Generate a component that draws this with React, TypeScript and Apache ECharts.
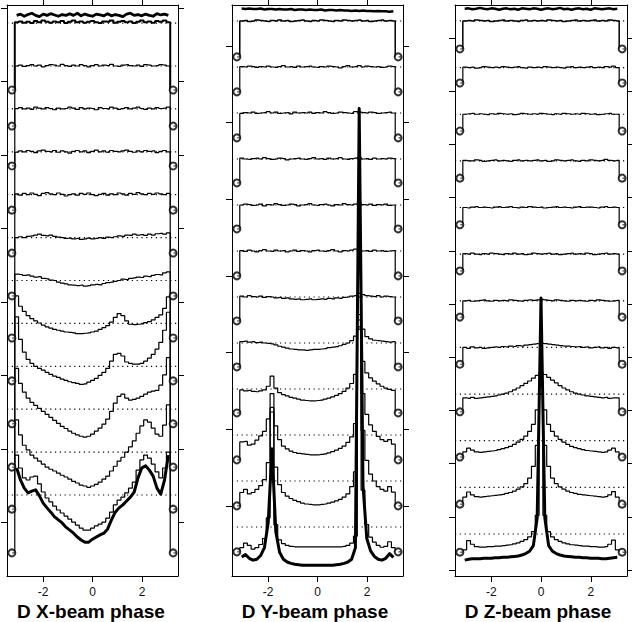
import React, { useEffect, useRef } from 'react';
import * as echarts from 'echarts';

// ---------- shared axis data ----------
const XMIN = -3.456;
const XMAX = 3.456;
const NBINS = 41;
const binCentres: number[] = Array.from({ length: NBINS }, (_, i) => -Math.PI + ((i + 0.5) * 2 * Math.PI) / NBINS);
const CIRCLE_X = 3.26;
const xTickValues = [-2, 0, 2];
const titles = ['D X-beam phase', 'D Y-beam phase', 'D Z-beam phase'];

// ---------- panel 1 : X-beam (deviations from each level, in % of the offset) ----------
const xDev1 = [93, 63, 40, 35, 42, 44, 26, 7, -7, -16, -26, -35, -42, -49, -56, -63, -70, -77, -82, -82, -77, -72, -68, -63, -54, -40, -23, -12, -5, 5, 16, 30, 58, 82, 93, 86, 72, 54, 40, 63, 100];
const xDev2 = [75, 40, 16, 5, -7, -14, -21, -28, -35, -40, -44, -49, -54, -58, -63, -68, -72, -77, -79, -82, -79, -75, -70, -63, -56, -44, -33, -21, -12, 0, 12, 26, 44, 61, 75, 70, 56, 42, 37, 63, 110];
const xDev3 = [95, 60, 40, 26, 16, 9, 2, -5, -12, -19, -26, -33, -40, -45, -51, -56, -60, -63, -65, -63, -58, -51, -44, -35, -23, -5, 14, 30, 35, 26, 21, 23, 26, 30, 35, 40, 42, 44, 56, 80, 120];
const xDev4 = [115, 63, 33, 16, 7, 0, -5, -9, -14, -19, -23, -26, -30, -33, -36, -38, -40, -42, -41, -37, -33, -28, -21, -14, -5, 12, 28, 30, 24, 10, 7, 5, 5, 7, 12, 19, 28, 40, 56, 84, 126];
const xDev5 = [64, 40, 28, 18, 11, 6, 1, -4, -8, -11, -14, -16, -18, -20, -21, -22, -24, -24, -23, -22, -20, -18, -14, -10, -5, 3, 14, 23, 18, 6, -2, -3, -2, -1, 2, 4, 8, 14, 20, 35, 62];
const xDev6 = [15, 14, 12, 13, 10, 8, 9, 5, 4, 1, 0, -4, -6, -8, -10, -11, -12, -11, -13, -12, -10, -9, -10, -7, -5, -4, -2, 0, 3, 2, 5, 6, 8, 7, 10, 9, 12, 14, 13, 18, 20];
const xDev7 = [0, 2, 0, 3, 4, 6, 8, 5, 4, 6, 3, 1, 0, -2, -1, -3, -2, -4, -3, -1, -3, -2, 0, -2, 1, 0, 2, 4, 3, 6, 5, 8, 6, 7, 5, 8, 6, 9, 10, 8, 11];
const xDev8 = [2, -1, 3, 0, 4, 1, -2, 3, 5, 2, 0, 4, 1, -3, 0, 2, -1, 3, 1, 4, 0, -2, 1, 3, -1, 2, 0, 4, 2, -1, 3, 1, 5, 2, 0, 3, 1, 4, 2, 0, 3];
const xDev9 = [-1, 2, 0, 3, 1, -2, 2, 4, 1, 0, 3, -1, 2, 0, -3, 1, 3, 0, 2, -2, 1, 4, 0, 2, -1, 3, 1, 0, 2, 4, 1, -1, 2, 0, 3, 1, 2, -2, 1, 3, 0];
const xDev10 = [1, 3, 0, 2, -1, 4, 2, 0, 3, 1, -2, 2, 0, 1, 4, 2, -1, 3, 0, 2, 1, -2, 3, 1, 0, 4, 2, -1, 1, 3, 0, 2, 4, 1, -1, 2, 0, 3, 1, 2, 4];
const xDev11 = [0, 2, -1, 1, 3, 0, 2, -2, 1, 3, 2, 0, 4, 1, -1, 2, 0, 3, 1, -2, 1, 3, 0, 2, 1, 4, 0, -1, 2, 3, 1, 0, 2, -1, 3, 2, 0, 1, 3, 2, 0];
const xDev12 = [2, 4, 1, 3, 0, 5, 2, 6, 3, 1, 4, 2, 5, 0, 3, 6, 2, 4, 1, 3, 5, 2, 0, 4, 3, 6, 1, 3, 5, 2, 4, 0, 3, 6, 2, 4, 1, 5, 3, 6, 2];
const xBottom = [1.63, 1.35, 1.16, 1.05, 1.09, 1.12, 0.98, 0.81, 0.7, 0.6, 0.49, 0.42, 0.35, 0.25, 0.18, 0.11, 0.02, -0.05, -0.1, -0.1, -0.03, 0.02, 0.07, 0.11, 0.21, 0.42, 0.6, 0.7, 0.77, 0.86, 0.95, 1.07, 1.4, 1.63, 1.68, 1.58, 1.44, 1.16, 1.02, 1.35, 1.93];
const xTop = [12.18, 12.21, 12.16, 12.2, 12.23, 12.18, 12.15, 12.21, 12.18, 12.22, 12.19, 12.16, 12.2, 12.18, 12.22, 12.18, 12.23, 12.17, 12.21, 12.18, 12.16, 12.21, 12.19, 12.17, 12.22, 12.17, 12.2, 12.18, 12.15, 12.21, 12.23, 12.18, 12.2, 12.17, 12.21, 12.18, 12.16, 12.22, 12.19, 12.21, 12.18];
const xCircles = [-0.35, 0.67, 1.65, 2.66, 3.66, 4.66, 5.64, 6.64, 7.64, 8.67, 9.6, 10.44];
const xYTicks = [0.359, 2.072, 3.785, 5.498, 7.211, 8.924, 10.637, 12.35];

// ---------- panel 2 : Y-beam ----------
const yDev1 = [-45, -35, -40, -48, -45, -38, -25, 20, 250, 5, -28, -36, -40, -42, -43, -43, -43, -43, -43, -43, -43, -43, -43, -43, -43, -43, -43, -42, -40, -35, -20, 500, 80, 5, -22, -33, -40, -44, -42, -32, -45];
const yDev2 = [-25, -18, -28, -25, -18, -10, 3, 40, 160, 30, -8, -25, -33, -38, -42, -45, -48, -50, -51, -52, -52, -51, -50, -48, -46, -43, -40, -35, -28, -12, 20, 350, 110, 45, 15, 0, -12, -18, -22, -12, -24];
const yDev3 = [-15, -14, -22, -20, -11, -2, 8, 35, 90, 20, -10, -24, -30, -35, -38, -40, -41, -42, -43, -43, -43, -42, -41, -39, -36, -33, -29, -24, -16, -4, 25, 230, 90, 45, 22, 8, -3, -10, -14, -10, -20];
const yDev4 = [-2, -4, -3, -5, -6, -4, -2, 6, 28, 2, -8, -12, -15, -18, -20, -22, -24, -25, -26, -26, -25, -24, -22, -20, -17, -14, -10, -5, 2, 12, 32, 135, 60, 35, 24, 17, 11, 6, 2, -1, -3];
const yDev5 = [3, 4, 2, 3, 1, 2, 0, -1, -2, -4, -7, -9, -11, -13, -14, -15, -15, -16, -15, -14, -14, -13, -12, -10, -9, -8, -6, -3, 0, 5, 15, 62, 30, 14, 9, 6, 5, 4, 3, 2, 3];
const yDev6 = [2, 0, 3, 1, 0, 2, -1, 1, 0, -2, -1, -3, -2, -4, -5, -4, -6, -5, -4, -6, -5, -4, -5, -3, -4, -2, -3, -1, 0, 2, 3, 8, 5, 3, 2, 1, 3, 0, 2, 1, 0];
const yDev7 = [1, -1, 2, 0, -2, 1, 3, 0, -1, 2, 0, 1, -2, 0, 2, -1, 1, 0, -2, 1, 2, 0, -1, 1, 3, 0, -2, 1, 0, 2, 4, 2, 0, 1, -1, 2, 0, 1, -1, 0, 1];
const yDev8 = [0, 2, 1, -1, 0, 2, -2, 1, 0, 3, 1, -1, 0, 2, 1, -2, 0, 1, 3, 0, -1, 1, 2, 0, -2, 1, 0, 3, 1, 0, 2, 5, 1, 0, 2, -1, 1, 0, 2, -1, 0];
const yDev9 = [2, 0, -1, 1, 2, 0, 3, 1, -1, 0, 2, 1, -2, 0, 1, 2, 0, -1, 1, 3, 0, 1, -1, 2, 0, 1, 3, 0, -1, 1, 2, 4, 0, 1, -1, 2, 0, 1, 0, 2, 1];
const yDev10 = [-1, 1, 0, 2, -1, 0, 1, 3, 0, 2, -1, 0, 1, -2, 2, 0, 1, 0, 2, -1, 1, 0, 3, 1, -1, 0, 2, 1, 0, -1, 3, 2, 1, 0, 2, 1, -1, 0, 1, 2, 0];
const yDev11 = [1, 0, 2, 1, -1, 1, 0, 2, 0, -1, 1, 3, 0, 1, -1, 2, 0, 1, 2, 0, -1, 1, 0, 2, 1, 0, -2, 1, 3, 0, 1, 3, 0, 2, 1, 0, 1, -1, 0, 2, 1];
const yDev12 = [0, 1, -1, 0, 2, 1, 0, -1, 1, 0, 2, 0, 1, -1, 0, 1, 2, 0, -1, 1, 0, 2, 1, 0, -1, 1, 0, 2, 1, 0, 1, 2, 0, 1, -1, 0, 1, 2, 0, 1, 0];
const yBottom = [0.35, 0.4, 0.32, 0.28, 0.3, 0.38, 0.55, 1.1, 2.7, 0.9, 0.45, 0.3, 0.24, 0.21, 0.19, 0.18, 0.17, 0.17, 0.17, 0.17, 0.17, 0.17, 0.17, 0.17, 0.17, 0.18, 0.19, 0.21, 0.24, 0.3, 0.55, 10.1, 1.9, 0.75, 0.48, 0.36, 0.3, 0.28, 0.32, 0.42, 0.34];
const yTop = [12.27, 12.26, 12.27, 12.26, 12.26, 12.27, 12.25, 12.26, 12.26, 12.25, 12.26, 12.25, 12.25, 12.26, 12.24, 12.25, 12.25, 12.24, 12.25, 12.24, 12.24, 12.25, 12.23, 12.24, 12.24, 12.23, 12.24, 12.23, 12.23, 12.22, 12.23, 12.22, 12.23, 12.22, 12.22, 12.21, 12.22, 12.21, 12.21, 12.2, 12.21];
const yCircles = [0.46, 1.46, 2.46, 3.48, 4.48, 5.48, 6.46, 7.48, 8.48, 9.46, 10.46, 11.22];
const yYTicks = [1.457, 3.124, 4.79, 6.457, 8.124, 9.79, 11.457];

// ---------- panel 3 : Z-beam ----------
const zDev1 = [-34, -14, -22, -27, -28, -28, -27, -27, -26, -26, -25, -24, -23, -21, -19, -16, -12, -6, 5, 40, 300, 40, 5, -6, -12, -16, -19, -21, -23, -24, -25, -26, -26, -27, -27, -28, -28, -27, -22, -13, -34];
const zDev2 = [-21, -10, -16, -20, -21, -20, -19, -18, -17, -16, -15, -13, -11, -8, -4, 1, 8, 20, 45, 90, 200, 90, 45, 20, 8, 1, -4, -8, -11, -13, -15, -16, -17, -18, -19, -20, -21, -20, -16, -9, -21];
const zDev3 = [-24, -16, -20, -24, -25, -24, -23, -22, -21, -19, -17, -15, -12, -8, -3, 3, 10, 20, 35, 66, 125, 66, 35, 20, 10, 3, -3, -8, -12, -15, -17, -19, -21, -22, -23, -24, -25, -24, -20, -16, -24];
const zDev4 = [-8, -9, -7, -9, -8, -7, -6, -5, -4, -2, 0, 2, 5, 9, 13, 18, 23, 28, 34, 40, 46, 42, 36, 30, 24, 18, 13, 9, 5, 2, 0, -2, -4, -5, -6, -7, -8, -7, -9, -8, -8];
const zDev5 = [0, -2, 1, -1, 0, -2, -1, 0, 1, 0, 2, 1, 3, 2, 4, 3, 5, 6, 7, 8, 9, 8, 7, 6, 5, 4, 3, 3, 2, 1, 2, 0, 1, -1, 0, 1, -1, 0, -2, 0, -1];
const zDev6 = [0, 1, -1, 0, 1, 2, 0, -1, 1, 0, 1, 0, 2, 1, 0, -1, 1, 2, 1, 2, 3, 2, 1, 0, 2, 1, 0, -1, 1, 0, 1, 0, -1, 1, 0, 2, 1, 0, -1, 0, 1];
const zDev7 = [1, 0, 2, 0, -1, 1, 0, 2, 1, 0, -1, 1, 0, 2, 0, 1, -1, 0, 2, 1, 0, 1, 2, 0, 1, -1, 0, 1, 2, 0, 1, 0, 2, 1, -1, 0, 1, 2, 0, 1, 0];
const zDev8 = [0, -1, 1, 2, 0, 1, 0, -1, 1, 2, 0, 1, 2, 0, -1, 1, 0, 2, 1, 0, 1, -1, 0, 1, 2, 0, 1, 0, -1, 1, 2, 0, 1, 1, 0, -1, 1, 2, 0, 1, 0];
const zDev9 = [1, 0, 0, 2, 1, -1, 0, 1, 2, 0, 1, 0, -1, 1, 2, 0, 1, 0, 1, 2, 0, 1, -1, 0, 2, 1, 0, 1, 2, 0, -1, 1, 0, 2, 1, 0, 1, 3, 1, 0, 1];
const zDev10 = [0, 1, 2, 0, 1, 0, -1, 1, 0, 2, 1, 0, 1, -1, 0, 2, 1, 0, 1, 0, 2, 1, 0, -1, 1, 0, 2, 1, 0, 1, 0, 2, 1, 0, 1, -1, 0, 1, 2, 0, 0];
const zDev11 = [1, 0, 1, -1, 0, 2, 1, 0, 1, 0, 2, 1, 0, 1, 2, 0, -1, 1, 0, 1, 0, 2, 1, 0, 1, 0, -1, 1, 2, 0, 1, 0, 1, 2, 0, 1, 0, 2, 1, 3, 0];
const zDev12 = [0, 1, 0, 2, 1, 0, 1, -1, 0, 1, 2, 0, 1, 0, -1, 1, 2, 0, 1, 0, 1, 0, 2, 1, 0, 1, -1, 0, 1, 2, 0, 1, 0, 1, 2, 0, 1, 0, 2, 1, 0];
const zBottom = [0.44, 0.46, 0.47, 0.47, 0.47, 0.48, 0.48, 0.48, 0.49, 0.49, 0.5, 0.5, 0.51, 0.52, 0.53, 0.55, 0.58, 0.63, 0.75, 1.35, 6.06, 1.35, 0.75, 0.63, 0.58, 0.55, 0.53, 0.52, 0.51, 0.5, 0.5, 0.49, 0.49, 0.48, 0.48, 0.48, 0.47, 0.47, 0.48, 0.49, 0.5];
const zTop = [12.26, 12.27, 12.25, 12.26, 12.28, 12.26, 12.25, 12.27, 12.26, 12.24, 12.26, 12.27, 12.25, 12.26, 12.24, 12.27, 12.26, 12.25, 12.27, 12.26, 12.24, 12.26, 12.27, 12.25, 12.26, 12.28, 12.25, 12.26, 12.24, 12.26, 12.27, 12.25, 12.26, 12.24, 12.27, 12.26, 12.25, 12.26, 12.27, 12.25, 12.26];
const zCircles = [0.61, 1.64, 2.65, 3.62, 4.64, 5.65, 6.64, 7.63, 8.63, 9.64, 10.67, 11.4];
const zYTicks = [0.228, 1.369, 2.51, 3.65, 4.79, 5.93, 7.07, 8.21, 9.35, 10.49, 11.635];

interface Panel {
  devs: number[][];
  circles: number[];
  bottom: number[];
  top: number[];
  ticks: number[];
  yMin: number;
  yMax: number;
  left: number;
  width: number;
  titleX: number;
  w12: number;
  topW: number;
}

const panels: Panel[] = [
  {
    devs: [xDev1, xDev2, xDev3, xDev4, xDev5, xDev6, xDev7, xDev8, xDev9, xDev10, xDev11, xDev12],
    circles: xCircles, bottom: xBottom, top: xTop, ticks: xYTicks,
    yMin: -0.888, yMax: 12.422, left: 7, width: 171, titleX: 91, w12: 2, topW: 2.8,
  },
  {
    devs: [yDev1, yDev2, yDev3, yDev4, yDev5, yDev6, yDev7, yDev8, yDev9, yDev10, yDev11, yDev12],
    circles: yCircles, bottom: yBottom, top: yTop, ticks: yYTicks,
    yMin: -0.065, yMax: 12.348, left: 232, width: 171, titleX: 315, w12: 1.5, topW: 2.5,
  },
  {
    devs: [zDev1, zDev2, zDev3, zDev4, zDev5, zDev6, zDev7, zDev8, zDev9, zDev10, zDev11, zDev12],
    circles: zCircles, bottom: zBottom, top: zTop, ticks: zYTicks,
    yMin: 0.0995, yMax: 12.342, left: 455, width: 172, titleX: 538, w12: 1.5, topW: 2.5,
  },
];

function buildSeries(p: Panel, g: number): any[] {
  const base = { xAxisIndex: g * 2, yAxisIndex: g * 2, silent: true, animation: false };
  const s: any[] = [];
  p.devs.forEach((_, k) => {
    s.push({
      ...base, type: 'line', symbol: 'none', z: 1,
      data: [[XMIN, k + 1], [XMAX, k + 1]],
      lineStyle: { color: '#000', width: 1.2, type: [1.2, 3.6] },
    });
  });
  p.devs.forEach((d, k) => {
    const lvl = k + 1;
    const c = p.circles[k];
    const vals = d.map((v) => lvl + v / 100);
    const data = [
      [-Math.PI, c],
      [-Math.PI, vals[0]],
      ...vals.map((v, i) => [binCentres[i], v]),
      [Math.PI, vals[NBINS - 1]],
      [Math.PI, c],
    ];
    s.push({
      ...base, type: 'line', step: 'middle', symbol: 'none', z: 3, data,
      lineStyle: { color: '#000', width: k === 11 ? p.w12 : 1.2 },
    });
  });
  s.push({
    ...base, type: 'line', symbol: 'none', z: 4,
    data: p.bottom.map((v, i) => [binCentres[i], v]),
    lineStyle: { color: '#000', width: 3, join: 'round' },
  });
  s.push({
    ...base, type: 'line', symbol: 'none', z: 4,
    data: p.top.map((v, i) => [binCentres[i], v]),
    lineStyle: { color: '#000', width: p.topW, join: 'round' },
  });
  const circ: number[][] = [];
  p.circles.forEach((c) => {
    circ.push([-CIRCLE_X, c], [CIRCLE_X, c]);
  });
  s.push({
    ...base, type: 'scatter', z: 5, data: circ, symbol: 'emptyCircle', symbolSize: 7,
    itemStyle: { color: '#000', borderColor: '#000', borderWidth: 1.1 },
  });
  s.push({
    ...base, type: 'scatter', z: 6, data: circ, symbol: 'rect', symbolSize: [2.6, 1.1], symbolOffset: [1.6, 0],
    itemStyle: { color: '#000' },
  });
  return s;
}

export default function App() {
  const ref = useRef<HTMLDivElement>(null);
  useEffect(() => {
    if (!ref.current) return;
    const chart = echarts.init(ref.current, undefined, { renderer: 'svg' });
    const grid: any[] = [];
    const xAxis: any[] = [];
    const yAxis: any[] = [];
    let series: any[] = [];
    const lineStyle = { color: '#000', width: 1 };
    panels.forEach((p, g) => {
      grid.push({ left: p.left, top: 5, width: p.width, height: 571, containLabel: false });
      xAxis.push({
        type: 'value', gridIndex: g, position: 'bottom', min: XMIN, max: XMAX,
        axisLine: { show: true, onZero: false, lineStyle },
        axisTick: { show: true, length: 6, customValues: xTickValues, lineStyle },
        axisLabel: { show: true, customValues: xTickValues, margin: 10, color: '#111', fontSize: 12, lineHeight: 12, fontFamily: 'Liberation Sans, Arial, sans-serif' },
        splitLine: { show: false },
      });
      xAxis.push({
        type: 'value', gridIndex: g, position: 'top', min: XMIN, max: XMAX,
        axisLine: { show: true, onZero: false, lineStyle },
        axisTick: { show: true, length: 6, customValues: xTickValues, lineStyle },
        axisLabel: { show: false },
        splitLine: { show: false },
      });
      yAxis.push({
        type: 'value', gridIndex: g, position: 'left', min: p.yMin, max: p.yMax,
        axisLine: { show: true, onZero: false, lineStyle },
        axisTick: { show: true, length: 6, customValues: p.ticks, lineStyle },
        axisLabel: { show: false },
        splitLine: { show: false },
      });
      yAxis.push({
        type: 'value', gridIndex: g, position: 'right', min: p.yMin, max: p.yMax,
        axisLine: { show: true, onZero: false, lineStyle },
        axisTick: { show: true, length: 6, customValues: p.ticks, lineStyle },
        axisLabel: { show: false },
        splitLine: { show: false },
      });
      series = series.concat(buildSeries(p, g));
    });
    chart.setOption({
      animation: false,
      backgroundColor: '#fff',
      grid,
      xAxis,
      yAxis,
      series,
      graphic: panels.map((p, g) => ({
        type: 'text',
        x: p.titleX,
        y: 611,
        style: {
          text: titles[g],
          fill: '#000',
          font: 'bold 19px "Liberation Sans", Arial, sans-serif',
          lineHeight: 19,
          align: 'center',
          verticalAlign: 'middle',
        },
      })),
    });
    return () => chart.dispose();
  }, []);
  return <div ref={ref} style={{ position: 'absolute', left: 0, top: 0, width: 632, height: 622 }} />;
}
